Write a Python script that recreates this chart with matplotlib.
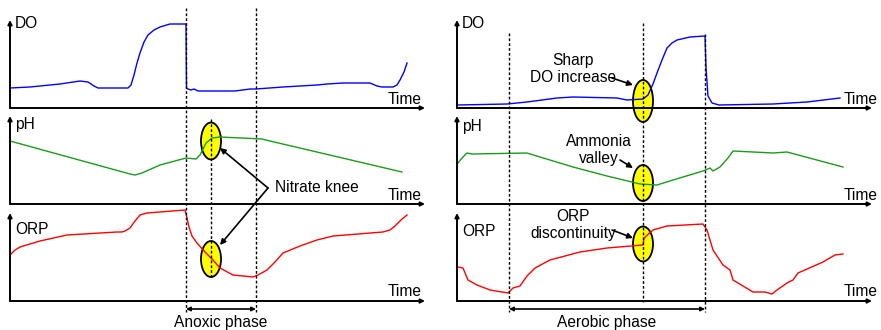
import matplotlib
matplotlib.use("Agg")
import matplotlib.pyplot as plt
from matplotlib.patches import Ellipse
from matplotlib.lines import Line2D
from matplotlib.transforms import blended_transform_factory

plt.rcParams['font.family'] = ['Liberation Sans', 'DejaVu Sans']
FS = 11.2

# ---- left cycle: anoxic phase (time units, signal level)
t_do_l = [0, 20, 50, 70, 78, 84, 88, 118, 121, 124, 127, 130, 134, 138, 144, 150, 160, 176,
          176.5, 178, 181, 184, 188, 225, 240, 246, 273, 307, 317, 333, 360, 367, 372, 383, 387, 390, 394, 397]
do_l = [20, 21, 24, 27, 26, 22, 20, 20, 23, 33, 45, 55, 66, 73, 78, 81, 84, 84,
        20, 19, 18, 19, 17, 17, 19, 19, 21, 23, 24, 25, 25, 22, 21, 21, 23, 28, 36, 45]

t_ph_l = [0, 120, 125, 132, 150, 176, 186, 190, 196, 202, 210, 252, 260, 392]
ph_l = [63, 30, 29, 31, 39, 46, 45, 49, 61, 66, 67, 65, 63, 32]

t_orp_l = [0, 5, 10, 20, 30, 57, 107, 112, 115, 120, 125, 130, 137, 175, 177, 179, 182, 187, 195, 203,
           210, 223, 243, 248, 257, 265, 273, 290, 307, 323, 373, 380, 385, 391, 397]
orp_l = [46, 51, 54, 57, 60, 66, 69, 69, 70, 73, 80, 86, 88, 91, 83, 74, 65, 58, 49, 41,
         33, 26, 24, 26, 31, 39, 48, 55, 61, 65, 69, 71, 75, 81, 86]

# ---- right cycle: aerobic phase
t_do_r = [1, 50, 70, 100, 116, 160, 170, 186, 191, 196, 200, 205, 210, 215, 220, 233, 248, 249, 251, 255, 262,
          316, 350, 383]
do_r = [3, 4, 6, 10, 11, 10, 8, 9, 13, 24, 35, 48, 60, 65, 68, 71, 72, 40, 12, 5, 3, 4, 6, 10]

t_ph_r = [1, 5, 10, 15, 70, 83, 116, 150, 183, 200, 216, 246, 253, 256, 263, 271, 276, 316, 330, 386]
ph_r = [41, 46, 51, 50, 51, 47, 37, 28, 20, 19, 24, 33, 36, 33, 37, 46, 53, 51, 52, 37]

t_orp_r = [1, 6, 11, 20, 33, 51, 56, 63, 70, 78, 93, 123, 150, 186, 187, 196, 210, 246, 250, 256,
           266, 273, 276, 296, 308, 315, 320, 330, 336, 341, 366, 378, 386]
orp_r = [34, 33, 21, 16, 11, 8, 13, 15, 25, 33, 41, 49, 53, 56, 63, 71, 75, 77, 71, 51,
         36, 31, 21, 9, 9, 7, 11, 18, 21, 28, 39, 46, 47]

signals = ['DO', 'pH', 'ORP']
colors = ['#0000ff', '#1a9c1a', '#ff0000']
left_data = [(t_do_l, do_l), (t_ph_l, ph_l), (t_orp_l, orp_l)]
right_data = [(t_do_r, do_r), (t_ph_r, ph_r), (t_orp_r, orp_r)]

anoxic = (176, 246)
knee_t = 201
aerobic = (52, 248)
aer_t = 186

W, H = 881, 330
fig = plt.figure(figsize=(W / 100, H / 100), dpi=100)

bottoms_px = [108, 204, 301]
panel_h = 88
span = 415


def make_col(x0, data, label_lvls, time_base):
    axes = []
    for i, (t, v) in enumerate(data):
        ax = fig.add_axes([x0 / W, (H - bottoms_px[i]) / H, span / W, panel_h / H])
        ax.set_xlim(0, span)
        ax.set_ylim(0, panel_h)
        ax.axis('off')
        ax.plot(t, v, color=colors[i], lw=1.0, clip_on=False, zorder=3)
        ax.annotate('', xy=(1, 0), xytext=(0, 0), xycoords='axes fraction',
                    arrowprops=dict(arrowstyle='-|>', lw=1.4, color='k', mutation_scale=6,
                                    shrinkA=0, shrinkB=0))
        ax.annotate('', xy=(0, 1), xytext=(0, 0), xycoords='axes fraction',
                    arrowprops=dict(arrowstyle='-|>', lw=1.4, color='k', mutation_scale=6,
                                    shrinkA=0, shrinkB=0))
        ax.text(5, label_lvls[i], signals[i], fontsize=FS, va='center', ha='left')
        ax.text(time_base[0], time_base[1], 'Time', fontsize=FS, va='baseline', ha='left',
                clip_on=False)
        axes.append(ax)
    return axes


axl = make_col(10, left_data, [85, 79, 71], (378, 4.5))
axr = make_col(457, right_data, [85, 77, 69], (387, 4.5))


def vline(ax, t, y0_px, y1_px):
    tr = blended_transform_factory(ax.transData, fig.transFigure)
    fig.add_artist(Line2D([t, t], [1 - y0_px / H, 1 - y1_px / H], transform=tr,
                          color='k', lw=1.0, ls=(0, (2, 1.5)), zorder=5))


vline(axl[0], anoxic[0], 8, 312)
vline(axl[0], anoxic[1], 8, 312)
vline(axl[0], knee_t, 119, 277)
vline(axr[0], aerobic[0], 33, 312)
vline(axr[0], aerobic[1], 34, 312)
vline(axr[0], aer_t, 23, 302)


def phase(ax, t0, t1, label):
    tr = blended_transform_factory(ax.transData, fig.transFigure)
    ax.annotate('', xy=(t1, 1 - 309 / H), xytext=(t0, 1 - 309 / H), xycoords=tr,
                arrowprops=dict(arrowstyle='<|-|>', lw=1.2, color='k', mutation_scale=6,
                                shrinkA=0, shrinkB=0), annotation_clip=False)
    ax.text((t0 + t1) / 2, 1 - 322 / H, label, transform=tr, fontsize=FS,
            ha='center', va='center')


phase(axl[2], *anoxic, 'Anoxic phase')
phase(axr[2], *aerobic, 'Aerobic phase')


def blob(ax, t, lvl, h):
    ax.add_patch(Ellipse((t, lvl), 20, h, facecolor='#ffff00', edgecolor='k', lw=1.3,
                         clip_on=False, zorder=2))


blob(axl[1], knee_t, 63, 37)
blob(axl[2], knee_t, 42, 36)
blob(axr[0], aer_t, 7, 42)
blob(axr[1], aer_t, 21, 36)
blob(axr[2], aer_t, 57, 35)

arrow = dict(arrowstyle='-|>', lw=1.2, color='k', mutation_scale=8, shrinkA=0, shrinkB=0)

# nitrate knee: two pointers from one vertex
axl[1].text(265, 17, 'Nitrate knee', fontsize=FS, va='center', ha='left')
axl[1].annotate('', xy=(210, 56), xytext=(258, 16), arrowprops=arrow, annotation_clip=False)
axl[1].annotate('', xy=(210, 56), xycoords=axl[2].transData, xytext=(258, 16),
                textcoords=axl[1].transData, arrowprops=arrow, annotation_clip=False)

notes = [(axr[0], 'Sharp\nDO increase', (116, 39), (155, 30), (176, 23)),
         (axr[1], 'Ammonia\nvalley', (142, 54), (163, 44), (176, 36)),
         (axr[2], 'ORP\ndiscontinuity', (116, 76), (155, 71), (176, 63))]
for ax, txt, pos, tail, tip in notes:
    ax.text(pos[0], pos[1], txt, fontsize=FS, ha='center', va='center', linespacing=1.15)
    ax.annotate('', xy=tip, xytext=tail, arrowprops=arrow, annotation_clip=False)

fig.savefig('out.png', dpi=100)
